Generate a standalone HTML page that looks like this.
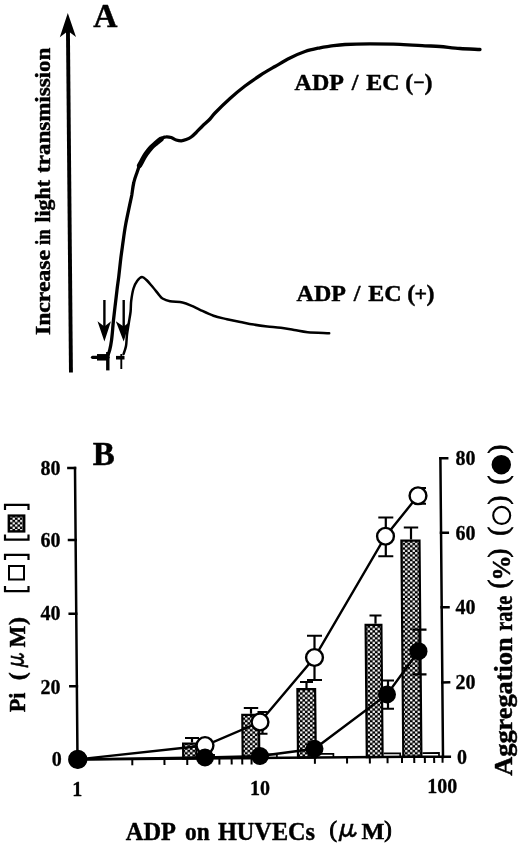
<!DOCTYPE html>
<html lang="en"><head><meta charset="utf-8"><title>Figure</title>
<style>html,body{margin:0;padding:0;background:#fff}svg{display:block}text{fill:#000}</style></head>
<body>
<svg width="520" height="846" viewBox="0 0 520 846">
<defs><pattern id="chk" width="5" height="4.6" patternUnits="userSpaceOnUse"><rect width="5" height="4.6" fill="#000"/><rect x="0.1" y="0.1" width="2.3" height="2.1" fill="#fff"/><rect x="2.6" y="2.4" width="2.3" height="2.1" fill="#fff"/></pattern></defs>
<rect width="520" height="846" fill="#fff"/>
<g fill="#000" stroke="none">
<path d="M66.0 30 L69.9 30 L72.9 372.5 L69.0 372.5 Z"/>
<path d="M67.8 13 L76.0 37.1 L68.0 31 L59.8 37.3 Z"/>
</g>
<g font-family='"Liberation Serif", serif' font-weight="700" stroke="#000" stroke-width="0.45" stroke-linejoin="round">
<text x="93.3" y="27" font-size="33.5">A</text>
<text transform="translate(50.2 335) rotate(-90)" font-size="22"><tspan x="0" textLength="85" lengthAdjust="spacingAndGlyphs">Increase</tspan><tspan x="90" textLength="15.6" lengthAdjust="spacingAndGlyphs">in</tspan><tspan x="112.4" textLength="42.8" lengthAdjust="spacingAndGlyphs">light</tspan><tspan x="162" textLength="125.3" lengthAdjust="spacingAndGlyphs">transmission</tspan></text>
<text y="90" font-size="24"><tspan x="294.6">ADP</tspan><tspan x="351.8">/</tspan><tspan x="366.3">EC</tspan><tspan x="405.3">(</tspan><tspan x="413.2" y="88.6" font-size="20">−</tspan><tspan x="424.6" y="90">)</tspan></text>
<text y="300.5" font-size="24"><tspan x="296.6">ADP</tspan><tspan x="353.8">/</tspan><tspan x="368.3">EC</tspan><tspan x="407.3">(</tspan><tspan x="414.6" y="301.3" font-size="22">+</tspan><tspan x="426.6" y="300.5">)</tspan></text>
</g>
<g fill="none" stroke="#000" stroke-linejoin="round" stroke-linecap="round">
<path stroke-width="3.3" d="M108.0 355.0 C108.3 354.1 109.2 352.0 109.8 349.6 C110.4 347.2 111.0 343.9 111.5 340.4 C112.0 336.9 112.4 332.2 112.7 328.8 C113.0 325.4 113.1 323.6 113.5 320.0 C113.9 316.4 114.4 311.9 115.0 306.9 C115.6 301.9 116.4 295.1 117.0 290.0 C117.6 284.9 118.2 281.3 118.8 276.2 C119.4 271.1 120.0 265.1 120.7 259.2 C121.4 253.3 122.4 246.7 123.2 240.8 C124.0 234.9 124.7 229.7 125.8 223.8 C126.9 217.9 128.6 210.2 129.6 205.4 C130.6 200.6 131.1 198.8 131.8 195.0 C132.4 191.2 132.9 186.2 133.8 182.5 C134.6 178.8 136.0 175.3 137.0 172.5 C138.0 169.7 138.6 167.6 139.5 165.5 C140.4 163.4 141.4 162.0 142.5 160.0 C143.6 158.0 144.8 155.8 146.2 153.8 C147.7 151.7 149.6 149.3 151.2 147.5 C152.9 145.7 154.4 144.6 156.2 143.0 C158.1 141.4 160.8 139.0 162.5 138.0 C164.2 137.0 164.8 136.8 166.2 136.8 C167.7 136.7 169.6 137.0 171.2 137.5 C172.9 138.0 174.6 139.5 176.2 140.0 C177.9 140.5 179.6 140.8 181.2 140.8 C182.9 140.7 184.6 140.1 186.2 139.5 C187.9 138.9 189.6 138.2 191.2 137.0 C192.9 135.8 194.4 134.3 196.2 132.5 C198.1 130.7 200.2 128.2 202.5 126.0 C204.8 123.8 207.9 121.2 210.0 119.0 C212.1 116.8 211.7 116.4 215.0 113.0 C218.3 109.6 225.0 103.0 230.0 98.5 C235.0 94.0 240.0 89.8 245.0 86.0 C250.0 82.2 255.0 78.8 260.0 75.5 C265.0 72.2 270.0 69.4 275.0 66.5 C280.0 63.6 285.0 60.5 290.0 58.0 C295.0 55.5 300.0 53.2 305.0 51.5 C310.0 49.8 315.8 48.7 320.0 47.8 C324.2 46.9 325.8 46.8 330.0 46.2 C334.2 45.7 338.3 44.9 345.0 44.5 C351.7 44.1 360.8 43.9 370.0 43.9 C379.2 43.9 390.8 44.0 400.0 44.3 C409.2 44.6 418.3 45.4 425.0 45.8 C431.7 46.1 434.2 46.0 440.0 46.5 C445.8 47.0 453.3 48.0 460.0 48.5 C466.7 49.0 476.7 49.3 480.0 49.5"/>
<path stroke-width="5.2" d="M139.5 165.5 C140.0 164.6 141.4 162.0 142.5 160.0 C143.6 158.0 144.8 155.8 146.2 153.8 C147.7 151.7 149.6 149.3 151.2 147.5 C152.9 145.7 154.6 144.4 156.2 143.0 C157.9 141.6 160.2 139.8 161.0 139.2"/>
<path stroke-width="2.5" d="M123.6 354.0 C124.0 352.7 125.4 349.2 126.0 346.0 C126.6 342.8 126.5 338.4 127.0 334.6 C127.5 330.8 128.2 326.9 128.8 323.0 C129.4 319.1 130.2 315.2 130.6 311.5 C131.0 307.8 130.7 304.6 131.2 300.8 C131.7 297.0 132.5 291.8 133.5 288.5 C134.5 285.2 135.9 282.7 137.3 280.8 C138.7 278.9 140.5 277.1 142.0 277.0 C143.5 276.9 144.7 278.3 146.5 280.0 C148.3 281.7 150.6 284.6 152.7 287.0 C154.8 289.4 157.2 292.7 158.8 294.6 C160.4 296.5 160.6 297.4 162.5 298.5 C164.4 299.6 166.7 300.6 170.0 301.2 C173.3 301.9 178.8 301.7 182.5 302.5 C186.2 303.3 189.6 305.0 192.5 306.2 C195.4 307.5 196.5 308.2 200.0 309.8 C203.5 311.4 209.0 314.1 213.5 315.7 C218.0 317.3 222.5 318.1 227.0 319.2 C231.5 320.2 235.9 321.1 240.4 322.0 C244.9 322.9 249.3 323.9 253.8 324.6 C258.3 325.4 262.8 326.0 267.3 326.5 C271.8 327.0 276.3 327.2 280.8 327.8 C285.3 328.4 289.7 329.3 294.2 330.0 C298.7 330.7 301.9 331.7 307.7 332.2 C313.5 332.7 325.6 333.0 329.2 333.2"/>
<path stroke-width="3.4" stroke-linecap="butt" d="M107.8 352 V370.4"/>
<path stroke-width="1.9" stroke-linecap="butt" d="M121.3 354 V369"/>
<path stroke-width="3.2" d="M92.5 357.3 H108"/>
<path stroke-width="6.5" stroke-linecap="butt" d="M97 357.3 H108"/>
<path stroke-width="3.6" stroke-linecap="butt" d="M116 357.7 H124.5"/>
<path stroke-width="2.4" stroke-linecap="butt" d="M104.4 300 V328 M123.7 300 V328"/>
</g>
<path d="M97.5 321.3 L104.4 326.5 L111 321.3 L104.4 341.5 Z M115.8 321.3 L123.7 326.5 L129.6 322 L123.7 341.5 Z" fill="#000"/>
<text x="92.7" y="464.5" font-family='"Liberation Serif", serif' font-weight="700" font-size="33" stroke="#000" stroke-width="0.45" stroke-linejoin="round">B</text>
<g stroke="#000" stroke-width="2.2" fill="none" stroke-linejoin="miter">
<path d="M192 742.5 V738 M185 738 H199"/>
<path d="M183.1 743.6 L196.4 743.5 L196.5 758.5 L183.2 758.6 Z" fill="url(#chk)"/>
<path stroke-width="1.7" d="M197.6 754.9 L214.1 754.8 V758.4"/>
<path d="M251 713.75 V708 M243.8 708 H258.2"/>
<path d="M242.3 714.9 L258.9 714.8 L259.3 758.0 L242.7 758.2 Z" fill="url(#chk)"/>
<path stroke-width="1.7" d="M260.4 754.4 L276.9 754.3 V757.9"/>
<path d="M306.5 688 V682 M300.0 682 H313.0"/>
<path d="M297.4 689.1 L315.1 689.0 L315.8 757.5 L298.0 757.7 Z" fill="url(#chk)"/>
<path stroke-width="1.7" d="M316.9 753.9 L333.4 753.8 V757.4"/>
<path d="M375.5 623.75 V615.5 M369.5 615.5 H381.5"/>
<path d="M365.6 624.9 L381.4 624.8 L382.6 757.0 L366.8 757.1 Z" fill="url(#chk)"/>
<path stroke-width="1.7" d="M383.7 753.4 L400.2 753.3 V756.9"/>
<path d="M411 539.5 V527.5 M403.8 527.5 H418.2"/>
<path d="M401.4 540.6 L419.5 540.5 L421.4 756.7 L403.3 756.8 Z" fill="url(#chk)"/>
<path stroke-width="1.7" d="M422.5 753.1 L439.0 752.9 V756.5"/>
</g>
<g stroke="#000" stroke-width="2.5" fill="none" stroke-linecap="square">
<path d="M75.0 468 L77.5 759.5 L443.0 756.6 M440.4 458.2 L443.0 757"/>
<path d="M68.4 468.05 L75.0 468"/>
<path d="M69.0 540.05 L75.6 540"/>
<path d="M69.7 613.8 L76.2 613.75"/>
<path d="M70.3 686.3 L76.9 686.25"/>
<path d="M70.9 759.3499999999999 L77.5 759.3"/>
<path d="M440.4 458.2 L447.2 458.15"/>
<path d="M441.0 532.7 L447.8 532.6500000000001"/>
<path d="M441.7 607.3 L448.5 607.25"/>
<path d="M442.3 682.4 L449.1 682.35"/>
<path d="M443.0 756.8 L449.8 756.75"/>
<path stroke-width="2" stroke-linecap="butt" d="M77.3 759.5 L77.3 765.8"/>
<path stroke-width="2" stroke-linecap="butt" d="M132.3 759.0 L132.3 765.3"/>
<path stroke-width="2" stroke-linecap="butt" d="M164.4 758.8 L164.5 765.1"/>
<path stroke-width="2" stroke-linecap="butt" d="M187.2 758.6 L187.3 764.9"/>
<path stroke-width="2" stroke-linecap="butt" d="M204.9 758.5 L205.0 764.8"/>
<path stroke-width="2" stroke-linecap="butt" d="M219.4 758.3 L219.4 764.6"/>
<path stroke-width="2" stroke-linecap="butt" d="M231.6 758.2 L231.7 764.5"/>
<path stroke-width="2" stroke-linecap="butt" d="M242.2 758.1 L242.3 764.4"/>
<path stroke-width="2" stroke-linecap="butt" d="M251.5 758.1 L251.6 764.4"/>
<path stroke-width="2" stroke-linecap="butt" d="M259.9 758.0 L259.9 764.3"/>
<path stroke-width="2" stroke-linecap="butt" d="M314.9 757.5 L314.9 763.8"/>
<path stroke-width="2" stroke-linecap="butt" d="M347.0 757.3 L347.1 763.6"/>
<path stroke-width="2" stroke-linecap="butt" d="M369.8 757.1 L369.9 763.4"/>
<path stroke-width="2" stroke-linecap="butt" d="M387.5 756.9 L387.6 763.2"/>
<path stroke-width="2" stroke-linecap="butt" d="M402.0 756.8 L402.0 763.1"/>
<path stroke-width="2" stroke-linecap="butt" d="M414.2 756.7 L414.3 763.0"/>
<path stroke-width="2" stroke-linecap="butt" d="M424.8 756.6 L424.9 762.9"/>
<path stroke-width="2" stroke-linecap="butt" d="M434.1 756.6 L434.2 762.9"/>
<path stroke-width="2" stroke-linecap="butt" d="M442.5 756.5 L442.6 762.8"/>
</g>
<g font-family='"Liberation Serif", serif' font-weight="700" font-size="20" stroke="#000" stroke-width="0.3">
<text x="60.5" y="475" text-anchor="end">80</text>
<text x="60.5" y="547" text-anchor="end">60</text>
<text x="60.5" y="619.9" text-anchor="end">40</text>
<text x="60.5" y="693.6" text-anchor="end">20</text>
<text x="61.7" y="766.2" text-anchor="end">0</text>
<text x="455.5" y="465">80</text>
<text x="455.5" y="539.7">60</text>
<text x="455.5" y="614.3">40</text>
<text x="455.5" y="689.4">20</text>
<text x="457" y="764.2">0</text>
<text x="77.2" y="795.8" text-anchor="middle">1</text>
<text x="260" y="794.6" text-anchor="middle">10</text>
<text x="442.3" y="793" text-anchor="middle">100</text>
</g>
<g font-family='"Liberation Serif", serif' font-weight="700" font-size="26" stroke="#000" stroke-width="0.45" stroke-linejoin="round">
<text y="840"><tspan x="125.8" textLength="50.2" lengthAdjust="spacingAndGlyphs">ADP</tspan><tspan x="185" textLength="24.6" lengthAdjust="spacingAndGlyphs">on</tspan><tspan x="218" textLength="97" lengthAdjust="spacingAndGlyphs">HUVECs</tspan><tspan x="361.6" y="839" font-size="24" textLength="23" lengthAdjust="spacingAndGlyphs">M</tspan></text>
</g>
<g font-family='"Liberation Serif", serif' font-size="22.5" stroke="#000" stroke-width="0.9">
<text y="837.3"><tspan x="329.6">(</tspan><tspan x="384.3">)</tspan></text>
</g>
<text x="333.6" y="838.3" font-family="IPAGothic, sans-serif" stroke="#000" stroke-width="0.5" font-size="27">μ</text>
<text transform="translate(25.2 712.3) rotate(-90)" font-family='"Liberation Serif", serif' font-weight="700" font-size="24" stroke="#000" stroke-width="0.45" stroke-linejoin="round" textLength="19.8" lengthAdjust="spacingAndGlyphs">Pi</text>
<text transform="translate(25.2 680.2) rotate(-90)" font-family='"Liberation Serif", serif' font-weight="700" font-size="24" stroke="#000" stroke-width="0.45" stroke-linejoin="round">(</text>
<text transform="translate(25.4 671.6) rotate(-90) scale(0.8 1.04)" font-family="IPAGothic, sans-serif" stroke="#000" stroke-width="0.5" font-size="27">μ</text>
<text transform="translate(25.2 647.4) rotate(-90)" font-family='"Liberation Serif", serif' font-weight="700" font-size="24" stroke="#000" stroke-width="0.45" stroke-linejoin="round" textLength="21.8" lengthAdjust="spacingAndGlyphs">M</text>
<text transform="translate(25.2 625) rotate(-90)" font-family='"Liberation Serif", serif' font-weight="700" font-size="24" stroke="#000" stroke-width="0.45" stroke-linejoin="round">)</text>
<g stroke="#000" stroke-width="2.2" fill="none">
<path d="M5 560 V554.8 H28.5 V560 M5 586 V591.2 H28.5 V586"/>
<rect x="9" y="566" width="15" height="13.5" stroke-width="2"/>
<path d="M5 510 V504.8 H28.5 V510 M5 534.5 V539.7 H28.5 V534.5"/>
<rect x="8.8" y="515.6" width="15.4" height="15.8" fill="url(#chk)" stroke-width="2.4"/>
</g>
<g font-family='"Liberation Serif", serif' font-weight="700" font-size="25" stroke="#000" stroke-width="0.45" stroke-linejoin="round">
<text transform="translate(511.7 775.8) rotate(-90)" textLength="138.5" lengthAdjust="spacingAndGlyphs">Aggregation</text>
<text transform="translate(511.7 630.8) rotate(-90)" textLength="35" lengthAdjust="spacingAndGlyphs">rate</text>
<text transform="translate(510 580.6) rotate(-90)">%</text>
</g>
<g font-family='"Liberation Serif", serif' font-size="26.5" stroke="#000" stroke-width="0.9">
<text transform="translate(507.4 453.4) rotate(-90)">)</text>
<text transform="translate(507.4 484.6) rotate(-90)">(</text>
<text transform="translate(507.4 504.5) rotate(-90)">)</text>
<text transform="translate(507.4 535.7) rotate(-90)">(</text>
<text transform="translate(507.4 557.6) rotate(-90)">)</text>
<text transform="translate(507.4 588.6) rotate(-90)">(</text>
</g>
<circle cx="501.7" cy="515.4" r="8.5" fill="#fff" stroke="#000" stroke-width="2.1"/>
<circle cx="501.3" cy="464.7" r="9.7" fill="#000"/>
<g stroke="#000" stroke-width="2.4" fill="none">
<polyline points="77.8,759.4 205.0,745.5 260.0,722.0 314.5,657.5 385.5,536.2 418.0,495.8"/>
<polyline points="77.8,759.4 205.0,757.5 260.0,756.0 314.5,748.8 387.0,694.5 418.5,651.2"/>
<path stroke-width="2.2" d="M262.5 712 V733.75 M257.5 712 H267.5 M257.5 733.75 H267.5"/>
<path stroke-width="2.2" d="M314.5 635.75 V680 M307.0 635.75 H322.0 M307.0 680 H322.0"/>
<path stroke-width="2.2" d="M385.8 517.5 V556.25 M378.3 517.5 H393.3 M378.3 556.25 H393.3"/>
<path stroke-width="2.2" d="M421 488 V503.75 M421 488 H426 M421 503.75 H426"/>
<path stroke-width="2.2" d="M388 680.5 V708.75 M382 680.5 H394 M382 708.75 H394"/>
<path stroke-width="2.2" d="M419.5 629.7 V674.3 M412.5 629.7 H426.5 M412.5 674.3 H426.5"/>
</g>
<circle cx="77.75" cy="759.4" r="8.4" fill="#fff" stroke="#000" stroke-width="2.4"/>
<circle cx="205" cy="745.5" r="8.4" fill="#fff" stroke="#000" stroke-width="2.4"/>
<circle cx="260" cy="722" r="8.4" fill="#fff" stroke="#000" stroke-width="2.4"/>
<circle cx="314.5" cy="657.5" r="8.4" fill="#fff" stroke="#000" stroke-width="2.4"/>
<circle cx="385.5" cy="536.25" r="8.4" fill="#fff" stroke="#000" stroke-width="2.4"/>
<circle cx="418" cy="495.75" r="8.4" fill="#fff" stroke="#000" stroke-width="2.4"/>
<circle cx="77.75" cy="759.4" r="9" fill="#000"/>
<circle cx="205" cy="757.5" r="9" fill="#000"/>
<circle cx="260" cy="756" r="9" fill="#000"/>
<circle cx="314.5" cy="748.75" r="9" fill="#000"/>
<circle cx="387" cy="694.5" r="9" fill="#000"/>
<circle cx="418.5" cy="651.2" r="9" fill="#000"/>
</svg>
</body></html>
